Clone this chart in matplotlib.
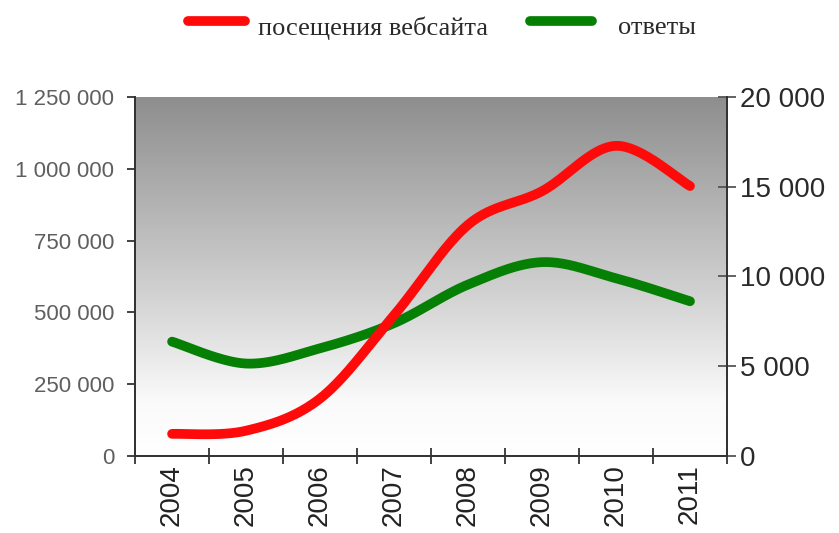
import numpy as np
import matplotlib
matplotlib.use("Agg")
import matplotlib.pyplot as plt
from matplotlib.lines import Line2D

# ---------------------------------------------------------------------------
# data
# ---------------------------------------------------------------------------
years = ["2004", "2005", "2006", "2007", "2008", "2009", "2010", "2011"]
visits = [77000, 88000, 200000, 490000, 805000, 922000, 1080000, 940000]
answers = [6370, 5150, 6000, 7400, 9550, 10800, 9900, 8620]

left_ticks = [0, 250000, 500000, 750000, 1000000, 1250000]
right_ticks = [0, 5000, 10000, 15000, 20000]

label_visits = "посещения вебсайта"
label_answers = "ответы"

RED = "#ff0a0a"
GREEN = "#058005"
W, H = 839, 533


def smooth(xs, ys, n=40):
    """Bezier smoothing like a spreadsheet 'smoothed line' (curve through points)."""
    p = np.column_stack([xs, ys]).astype(float)
    p = np.vstack([p[0], p, p[-1]])
    out = []
    t = np.linspace(0, 1, n)[:, None]
    for i in range(1, len(p) - 2):
        p0, p1, p2, p3 = p[i - 1], p[i], p[i + 1], p[i + 2]
        c1 = p1 + (p2 - p0) / 6.0
        c2 = p2 - (p3 - p1) / 6.0
        seg = ((1 - t) ** 3) * p1 + 3 * ((1 - t) ** 2) * t * c1 \
            + 3 * (1 - t) * t ** 2 * c2 + t ** 3 * p2
        out.append(seg if i == 1 else seg[1:])
    out = np.vstack(out)
    return out[:, 0], out[:, 1]


def fmt(v):
    return f"{v:,.0f}".replace(",", " ")


plt.rcParams["font.family"] = ["Liberation Sans", "DejaVu Sans"]

fig = plt.figure(figsize=(W / 100, H / 100), dpi=100)
ax = fig.add_axes([0.161, 0.1445, 0.7055, 0.6735])
ax2 = ax.twinx()

# red line on top of green: put the left axes above the twin
ax.set_zorder(ax2.get_zorder() + 1)
ax.patch.set_visible(False)

x = np.arange(len(years))

# gradient background (dark grey top -> white bottom)
bg = matplotlib.colors.LinearSegmentedColormap.from_list(
    "bg", [(0.0, "#8e8e8e"), (0.55, "#d2d2d2"), (0.85, "#fafafa"), (1.0, "#ffffff")])
grad = np.linspace(0, 1, 256)[:, None]
ax2.imshow(grad, cmap=bg, extent=[-0.5, 7.5, 0, 20000], aspect="auto",
           origin="upper", zorder=0)

sx, sy = smooth(x, answers)
ax2.plot(sx, sy, color=GREEN, lw=7, solid_capstyle="round", zorder=2)
sx, sy = smooth(x, visits)
ax.plot(sx, sy, color=RED, lw=7, solid_capstyle="round", zorder=3)

ax.set_xlim(-0.5, 7.5)
ax.set_ylim(0, 1250000)
ax2.set_ylim(0, 20000)

ax.set_yticks(left_ticks)
ax.set_yticklabels([fmt(v) for v in left_ticks])
ax2.set_yticks(right_ticks)
ax2.set_yticklabels([fmt(v) for v in right_ticks])

ax.set_xticks(np.arange(-0.5, 8, 1))
ax.set_xticklabels([""] * 9)
ax.set_xticks(x, minor=True)
ax.set_xticklabels(years, minor=True, rotation=90, fontsize=20, color="#222222")
ax.tick_params(axis="x", which="minor", length=0, pad=6)
ax.tick_params(axis="x", which="major", direction="inout", length=11,
               width=1.3, color="#333333")

ax.tick_params(axis="y", direction="out", length=6, width=1.3, pad=9,
               labelsize=16, labelcolor="#5f5f5f", color="#333333")
ax2.tick_params(axis="y", direction="inout", length=13, width=1.3, pad=3,
                labelsize=20, labelcolor="#2a2a2a", color="#555555")

for a in (ax, ax2):
    a.spines["top"].set_visible(False)
    for s in ("left", "right", "bottom"):
        a.spines[s].set_color("#333333")
        a.spines[s].set_linewidth(1.3)

# legend drawn by hand: handles sit a little above the text, as in the original
legend_items = [(RED, label_visits, 188, 245, 258), (GREEN, label_answers, 530, 592, 618)]
for color, text, x0, x1, tx in legend_items:
    fig.add_artist(Line2D([x0 / W, x1 / W], [1 - 21 / H] * 2, transform=fig.transFigure,
                          color=color, lw=7, solid_capstyle="round"))
    fig.text(tx / W, 1 - 28 / H, text, ha="left", va="center", fontsize=19,
             color="#2a2a2a", family=["Liberation Serif", "DejaVu Serif"])

fig.savefig("out.png", dpi=100)
